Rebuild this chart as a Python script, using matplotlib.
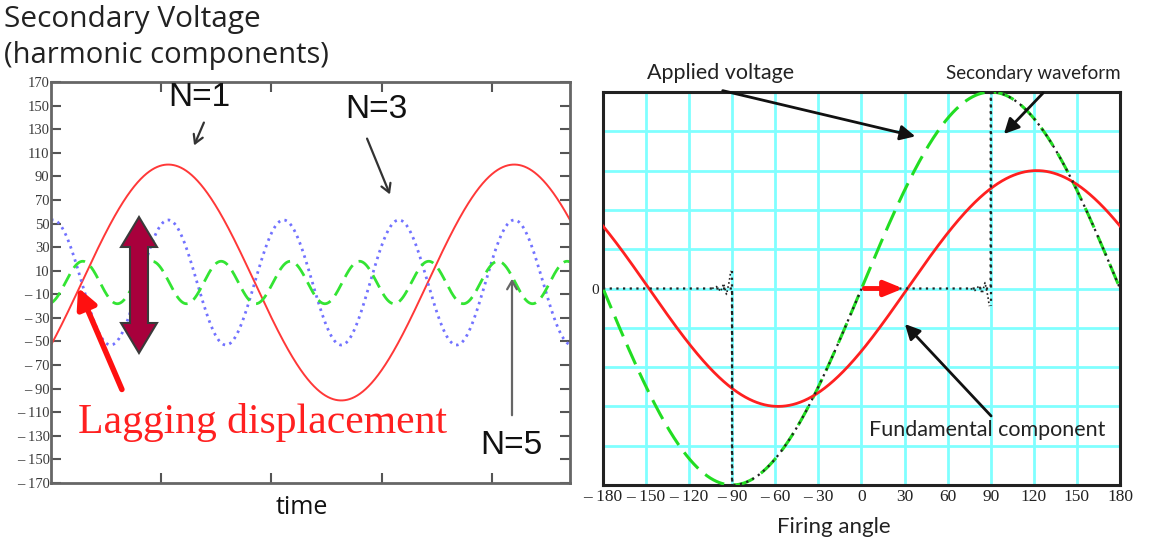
import numpy as np
import matplotlib
matplotlib.use("Agg")
import matplotlib.pyplot as plt
from matplotlib.patches import Polygon, FancyArrowPatch

# ---------------- data ----------------
# Left panel: harmonic components (angle in degrees of the fundamental)
harmonic_orders = [1, 3, 5]
harmonic_amplitudes = [100, 53, 18]
harmonic_phase_deg = [0, 0, 17]          # lead of each component's peak (fundamental degrees)
harmonic_labels = ["N=1", "N=3", "N=5"]
left_xlim = [-122, 418]
left_xticks = [-8, 107, 222, 337]
left_yticks = [170, 150, 130, 110, 90, 70, 50, 30, 10, -10, -30, -50, -70,
               -90, -110, -130, -150, -170]

# Right panel: firing angle (degrees)
applied_amplitude = 1.0
firing_angle = 90
fundamental_amplitude = 0.6
fundamental_lag_deg = 32
ring_angles_neg = [-104, -101, -98, -96, -94, -92, -91]
ring_values_neg = [0.0, 0.01, -0.015, 0.025, -0.03, 0.04, 0.09]
ring_angles_pos = [76, 79, 82, 84, 86, 88, 89]
ring_values_pos = [0.0, -0.01, 0.015, -0.025, 0.03, -0.04, -0.09]
right_xticks = [-180, -150, -120, -90, -60, -30, 0, 30, 60, 90, 120, 150, 180]
right_yticks = [-1.0, -0.8, -0.6, -0.4, -0.2, 0.0, 0.2, 0.4, 0.6, 0.8, 1.0]

# ---------------- figure ----------------
W, H = 1151, 544
fig = plt.figure(figsize=(W / 100, H / 100), dpi=100)
fig.patch.set_facecolor("white")


def P(x, y):
    """pixel (from top-left) -> figure fraction"""
    return (x / W, 1 - y / H)


def fmt_minus(v):
    s = f"{abs(v):g}"
    return s if v >= 0 else "\u2013 " + s


# ---------- left panel ----------
axL = fig.add_axes([51 / W, 1 - 483 / H, (570 - 51) / W, (483 - 82) / H])
th = np.linspace(left_xlim[0], left_xlim[1], 2000)
styles = [dict(color="#ff3838", lw=1.4, ls="-"),
          dict(color="#7272ff", lw=2.0, ls=(0, (0.9, 1.6))),
          dict(color="#33e433", lw=2.0, ls=(0, (5, 2.6)))]
for n, a, ph, st in zip(harmonic_orders, harmonic_amplitudes, harmonic_phase_deg, styles):
    axL.plot(th, a * np.cos(np.radians(n * (th + ph))), **st)
axL.set_xlim(left_xlim)
axL.set_ylim(-170, 170)
axL.set_yticks(left_yticks)
axL.set_yticklabels([fmt_minus(v) for v in left_yticks], family="Liberation Serif",
                    fontsize=10.5, color="#3a3a3a")
axL.set_xticks(left_xticks)
axL.set_xticklabels([])
axL.tick_params(direction="in", length=7, width=1.5, color="#555555",
                top=True, right=True, pad=1)
for s in axL.spines.values():
    s.set_color("#666666")
    s.set_linewidth(2)
fig.text(*P(302, 508), "time", ha="center", va="center", fontsize=18, family="Open Sans",
         color="#111111")

fig.text(*P(4, 20), "Secondary Voltage", ha="left", va="center", fontsize=21.5,
         family="Open Sans", color="#222222")
fig.text(*P(4, 56), "(harmonic components)", ha="left", va="center", fontsize=21,
         family="Open Sans", color="#222222")

# harmonic labels with arrows
lab_pos = [(199, 98), (376, 110), (511, 446)]
arrow_pts = [((205, 120), (193, 148)), ((366, 136), (391, 197)), ((512, 418), (512, 276))]
arrow_cols = ["#333333", "#333333", "#666666"]
for lab, (lx, ly), (t0, t1), c in zip(harmonic_labels, lab_pos, arrow_pts, arrow_cols):
    fig.text(*P(lx, ly), lab, ha="center", va="center", fontsize=24,
             family="Liberation Sans", color="#111111")
    fig.add_artist(FancyArrowPatch(P(*t0), P(*t1), transform=fig.transFigure,
                                   arrowstyle="->,head_length=6,head_width=3.5",
                                   lw=1.6, color=c))

# red lagging arrow and text
fig.add_artist(FancyArrowPatch(P(123, 392), P(77, 285), transform=fig.transFigure,
                               arrowstyle="-|>,head_length=12,head_width=6",
                               lw=4, color="#ff1010"))
fig.text(*P(263, 422), "Lagging displacement", ha="center", va="center", fontsize=30,
         family="Liberation Serif", color="#ff2020")

# double arrow (crimson)
cx, ytop, ybot, hw, sw, hl = 139, 217, 353, 18, 9, 30
pts = [(cx, ytop), (cx + hw, ytop + hl), (cx + sw, ytop + hl), (cx + sw, ybot - hl),
       (cx + hw, ybot - hl), (cx, ybot), (cx - hw, ybot - hl), (cx - sw, ybot - hl),
       (cx - sw, ytop + hl), (cx - hw, ytop + hl)]
fig.add_artist(Polygon([P(x, y) for x, y in pts], closed=True, transform=fig.transFigure,
                       facecolor="#a8003c", edgecolor="#3a3a3a", lw=1.5))

# ---------- right panel ----------
axR = fig.add_axes([603 / W, 1 - 485 / H, (1120 - 603) / W, (485 - 92) / H])
x = np.linspace(-180, 180, 3601)
applied = applied_amplitude * np.sin(np.radians(x))
secondary = np.where(((x >= -firing_angle) & (x <= 0)) | (x >= firing_angle), applied, 0.0)
fundamental = fundamental_amplitude * np.sin(np.radians(x - fundamental_lag_deg))

axR.set_xlim(-180, 180)
axR.set_ylim(-1, 1)
axR.set_xticks(right_xticks)
axR.set_xticklabels([fmt_minus(v) for v in right_xticks], family="Liberation Serif",
                    fontsize=12.5, color="#222222")
axR.set_yticks(right_yticks)
axR.set_yticklabels(["0" if v == 0 else "" for v in right_yticks],
                    family="Liberation Serif", fontsize=11, color="#222222")
axR.tick_params(length=0, pad=3)
axR.grid(True, color="#80ffff", lw=2)
axR.set_axisbelow(True)
for s in axR.spines.values():
    s.set_color("#222222")
    s.set_linewidth(2.2)

axR.plot(x, applied, color="#22dd22", lw=2.2, ls=(0, (7, 3)), zorder=3)
axR.plot(x, fundamental, color="#ff2020", lw=2, zorder=4)
axR.plot(x, secondary, color="#222222", lw=1.6, ls=(0, (1, 2)), zorder=5)
axR.plot(ring_angles_neg, ring_values_neg, color="#222222", lw=1.2, ls=(0, (1, 1.5)), zorder=5)
axR.plot(ring_angles_pos, ring_values_pos, color="#222222", lw=1.2, ls=(0, (1, 1.5)), zorder=5)
axR.plot([-firing_angle, -firing_angle], [0.09, -1], color="#222222", lw=1.6,
         ls=(0, (1, 2)), zorder=5)
axR.plot([firing_angle, firing_angle], [1, -0.09], color="#222222", lw=1.6,
         ls=(0, (1, 2)), zorder=5)
axR.annotate("", xy=(fundamental_lag_deg - 1, 0), xytext=(0, 0),
             arrowprops=dict(arrowstyle="-|>,head_length=1.1,head_width=0.45",
                             lw=3.5, color="#ff1010"), zorder=6)

fig.text(*P(834, 527), "Firing angle", ha="center", va="center", fontsize=16,
         family="Lato", color="#222222")

right_labels = [("Applied voltage", (721, 73), (720, 90), (918, 137), 15.5),
                ("Secondary waveform", (1033, 73), (1045, 91), (1002, 136), 13.5),
                ("Fundamental component", (987, 430), (993, 418), (903, 322), 15.5)]
for txt, tp, a0, a1, fs in right_labels:
    fig.text(*P(*tp), txt, ha="center", va="center", fontsize=fs, family="Lato",
             color="#222222")
    fig.add_artist(FancyArrowPatch(P(*a0), P(*a1), transform=fig.transFigure,
                                   arrowstyle="-|>,head_length=9,head_width=4.5",
                                   lw=2, color="#111111"))

fig.savefig("out.png", dpi=100, facecolor="white")
